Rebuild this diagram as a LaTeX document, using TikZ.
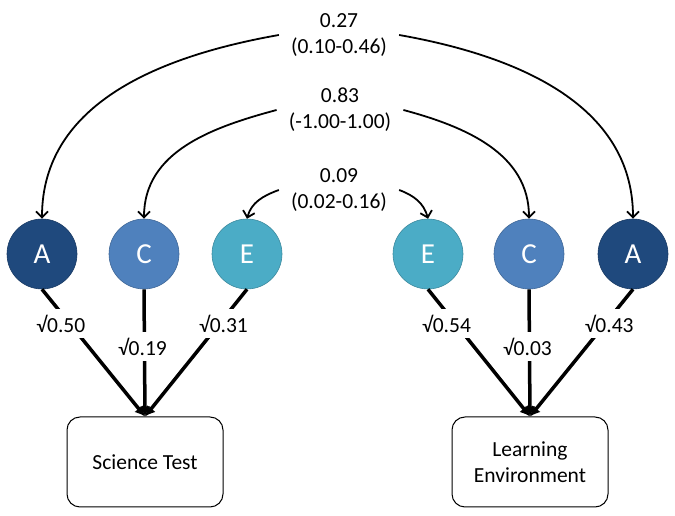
\documentclass[tikz,border=0pt]{standalone}
\usepackage{fontspec}
\setmainfont{Carlito}
\usetikzlibrary{arrows.meta}

\definecolor{aBlue}{HTML}{1F497D}
\definecolor{cBlue}{HTML}{4F81BD}
\definecolor{eBlue}{HTML}{4BACC6}

\begin{document}
\begin{tikzpicture}[x=1pt,y=1pt,
        latent/.style={circle, minimum size=70pt, inner sep=0pt, text=white,
            line width=0.6pt, font=\fontsize{29}{34}\selectfont},
        observed/.style={draw, rounded corners=13pt, minimum width=156pt,
            minimum height=90pt, align=center, line width=1pt,
            font=\fontsize{21.5}{26}\selectfont},
        corr/.style={align=center, inner xsep=12pt, font=\fontsize{21.5}{26}\selectfont},
        path/.style={line width=3.5pt, -{Latex[length=10pt,width=11pt]}},
        cov/.style={line width=1.8pt, -{Straight Barb[length=6pt,width=12pt]}},
        wt/.style={fill=white, inner xsep=2pt, inner ysep=6pt, font=\fontsize{21.5}{26}\selectfont}]
        \useasboundingbox (0,0) rectangle (675,516);
        % latent factors
        \node[latent, fill=aBlue, draw=aBlue!80!black] (aL) at (42,262) {A};
        \node[latent, fill=cBlue, draw=cBlue!80!black] (cL) at (144,262) {C};
        \node[latent, fill=eBlue, draw=eBlue!80!black] (eL) at (247,262) {E};
        \node[latent, fill=eBlue, draw=eBlue!80!black] (eR) at (428,262) {E};
        \node[latent, fill=cBlue, draw=cBlue!80!black] (cR) at (529,262) {C};
        \node[latent, fill=aBlue, draw=aBlue!80!black] (aR) at (633,262) {A};
        % measured traits
        \node[observed] (st) at (145,54) {Science Test};
        \node[observed] (le) at (530,54) {Learning\\Environment};
        % correlations
        \node[corr] (rA) at (339,481) {0.27\\(0.10-0.46)};
        \node[corr] (rC) at (340,406) {0.83\\(-1.00-1.00)};
        \node[corr] (rE) at (339,326) {0.09\\(0.02-0.16)};
        \draw[cov] (rA.west) to[out=190,in=90] (aL.north);
        \draw[cov] (rA.east) to[out=-10,in=90] (aR.north);
        \draw[cov] (rC.west) to[out=195,in=90] (cL.north);
        \draw[cov] (rC.east) to[out=-15,in=90] (cR.north);
        \draw[cov] (rE.west) to[out=200,in=75] (eL.north);
        \draw[cov] (rE.east) to[out=-20,in=105] (eR.north);
        % paths
        \draw[path] (aL.south) -- node[wt, pos=0.27, xshift=-9pt] {√0.50} (st.north);
        \draw[path] (cL.south) -- node[wt, pos=0.45, xshift=-2pt] {√0.19} (st.north);
        \draw[path] (eL.south) -- node[wt, pos=0.27, xshift=4pt] {√0.31} (st.north);
        \draw[path] (eR.south) -- node[wt, pos=0.27, xshift=-9pt] {√0.54} (le.north);
        \draw[path] (cR.south) -- node[wt, pos=0.45, xshift=-2pt] {√0.03} (le.north);
        \draw[path] (aR.south) -- node[wt, pos=0.27, xshift=4pt] {√0.43} (le.north);
    \end{tikzpicture}
\end{document}
